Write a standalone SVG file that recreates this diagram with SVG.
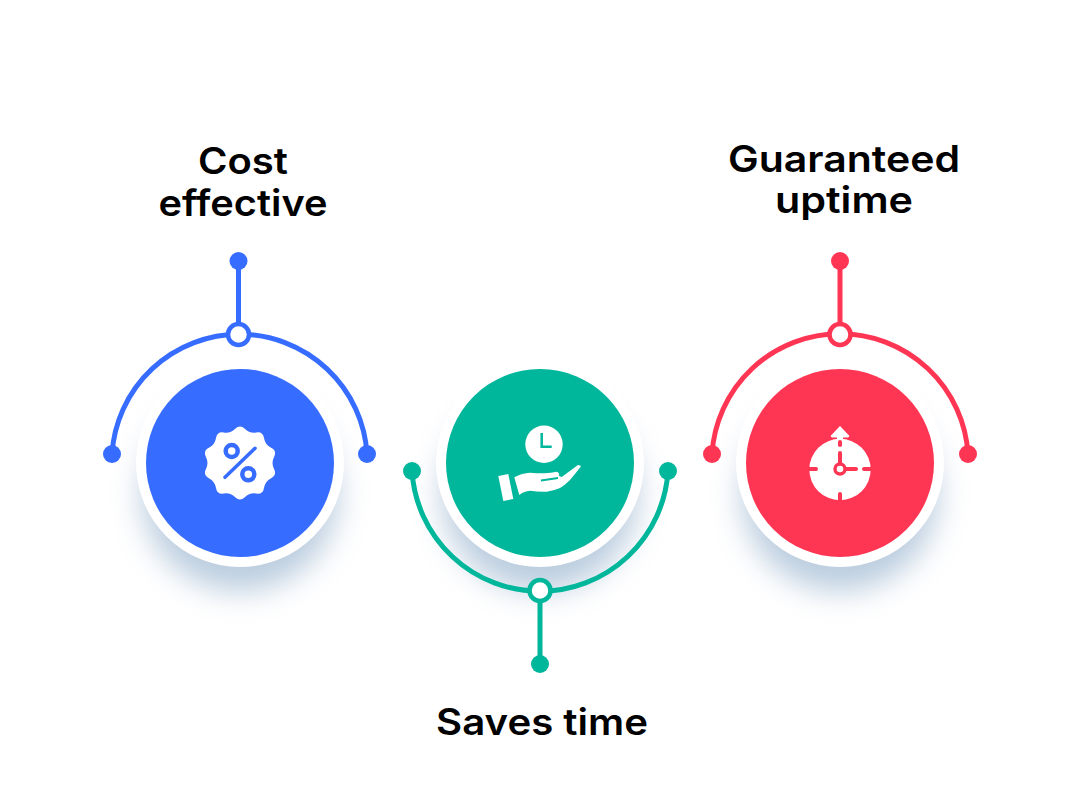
<svg xmlns="http://www.w3.org/2000/svg" width="1080" height="810" viewBox="0 0 1080 810">
<defs>
<filter id="sh" x="-50%" y="-50%" width="200%" height="200%"><feGaussianBlur stdDeviation="15"/></filter>
</defs>
<style>
.t{font-family:"Inter","Liberation Sans",sans-serif;font-weight:600;font-size:36.500px;fill:#000;text-anchor:middle}
.ln{fill:none;stroke-width:5;stroke-linecap:round}
.halo{fill:#fff}
.sd{fill:#a9c0d6;opacity:.8;filter:url(#sh)}
.ic{fill:#fff}
.blue{stroke:#366cff}.green{stroke:#00b69b}.red{stroke:#ff3554}
.fb{fill:#366cff}.fg{fill:#00b69b}.fr{fill:#ff3554}
.ring{fill:#fff;stroke-width:4.500}
</style>
<rect width="1080" height="810" fill="#fff"/>
<g id="shadows">
<circle class="sd" cx="240" cy="493" r="98"/>
<circle class="sd" cx="540" cy="493" r="98"/>
<circle class="sd" cx="840" cy="493" r="98"/>
</g>
<g id="connectors">
<path class="ln blue" d="M112 454A127.750 127.750 0 0 1 367 454"/>
<path class="ln blue" d="M238.500 261V334"/>
<path class="ln green" d="M412 471A128.250 128.250 0 0 0 668 471"/>
<path class="ln green" d="M540 591V664"/>
<path class="ln red" d="M712 454A128.250 128.250 0 0 1 968 454"/>
<path class="ln red" d="M840 261V334"/>
</g>
<g id="node-cost">
<circle class="halo" cx="240" cy="463" r="104"/>
<circle class="fb" cx="240" cy="463" r="94"/>
<path class="ic" d="M235.210 428.760Q240 424 244.790 428.760Q249.580 433.520 256.260 432.480Q262.930 431.450 264 438.110Q265.080 444.770 271.090 447.860Q277.090 450.950 274.050 456.970Q271 463 274.050 469.030Q277.090 475.050 271.090 478.140Q265.080 481.230 264 487.890Q262.930 494.550 256.260 493.520Q249.580 492.480 244.790 497.240Q240 502 235.210 497.240Q230.420 492.480 223.740 493.520Q217.070 494.550 216 487.890Q214.920 481.230 208.910 478.140Q202.910 475.050 205.950 469.030Q209 463 205.950 456.970Q202.910 450.950 208.910 447.860Q214.920 444.770 216 438.110Q217.070 431.450 223.740 432.480Q230.420 433.520 235.210 428.760Z"/>
<circle cx="231.700" cy="451" r="6" fill="none" stroke="#366cff" stroke-width="4.500"/>
<circle cx="248.300" cy="474.300" r="6" fill="none" stroke="#366cff" stroke-width="4.500"/>
<path d="M255 448.300L225 477.300" stroke="#366cff" stroke-width="3.500" stroke-linecap="round"/>
<circle class="fb" cx="112" cy="454" r="9"/>
<circle class="fb" cx="367" cy="454" r="9"/>
<circle class="fb" cx="238.500" cy="261" r="9"/>
<circle class="ring blue" cx="238.500" cy="334.500" r="10.500"/>
<text class="t" x="243" y="173.500" textLength="90" lengthAdjust="spacingAndGlyphs">Cost</text>
<text class="t" x="243" y="215.500" textLength="169" lengthAdjust="spacingAndGlyphs">effective</text>
</g>
<g id="node-time">
<circle class="halo" cx="540" cy="463" r="104"/>
<circle class="fg" cx="540" cy="463" r="94"/>
<circle class="ic" cx="544" cy="444.300" r="18.700"/>
<path d="M541.700 433V446.700H551.700" fill="none" stroke="#00b69b" stroke-width="2.500"/>
<path class="ic" d="M498.300 476L508.300 474L513.300 499L503.300 501Z"/>
<path class="ic" d="M514.300 477.300Q522 473 530 472.700Q538 473.500 545 473.300Q551 473 556.700 471.700Q560 473 559 476L561.700 477L578 465Q581 465 580.700 466.700Q575 474 570 480Q565 485 560 488Q553 491 546.700 491.700Q538 492 530 490.700Q524 491 519.300 495Z"/>
<path d="M541 480.500L558 478" fill="none" stroke="#00b69b" stroke-width="2"/>
<circle class="fg" cx="412" cy="471" r="9"/>
<circle class="fg" cx="668" cy="471" r="9"/>
<circle class="fg" cx="540" cy="664" r="9"/>
<circle class="ring green" cx="540" cy="590.500" r="10.500"/>
<text class="t" x="542" y="734.500" textLength="212" lengthAdjust="spacingAndGlyphs">Saves time</text>
</g>
<g id="node-uptime">
<circle class="halo" cx="840" cy="463" r="104"/>
<circle class="fr" cx="840" cy="463" r="94"/>
<circle class="ic" cx="840" cy="469.500" r="30.700"/>
<path class="ic" d="M840 426L849 435.500Q849.500 437.500 847 437.500H833Q830.500 437.500 831 435.500Z"/>
<path class="ic" d="M837 437H843V442H837Z"/>
<g stroke="#ff3554" stroke-width="4" fill="none" stroke-linecap="round">
<path d="M840 442V445"/>
<path d="M840 453V465"/>
<path d="M845 469H856"/>
<path d="M809 469H816"/>
<path d="M864 469H871"/>
<path d="M840 494V500"/>
<circle cx="840" cy="469" r="5" fill="#fff" stroke-width="3.400"/>
</g>
<circle class="fr" cx="712" cy="454" r="9"/>
<circle class="fr" cx="968" cy="454" r="9"/>
<circle class="fr" cx="840" cy="261" r="9"/>
<circle class="ring red" cx="840" cy="334.500" r="10.500"/>
<text class="t" x="844" y="172" textLength="232" lengthAdjust="spacingAndGlyphs">Guaranteed</text>
<text class="t" x="844" y="212.500" textLength="138" lengthAdjust="spacingAndGlyphs">uptime</text>
</g>
</svg>
